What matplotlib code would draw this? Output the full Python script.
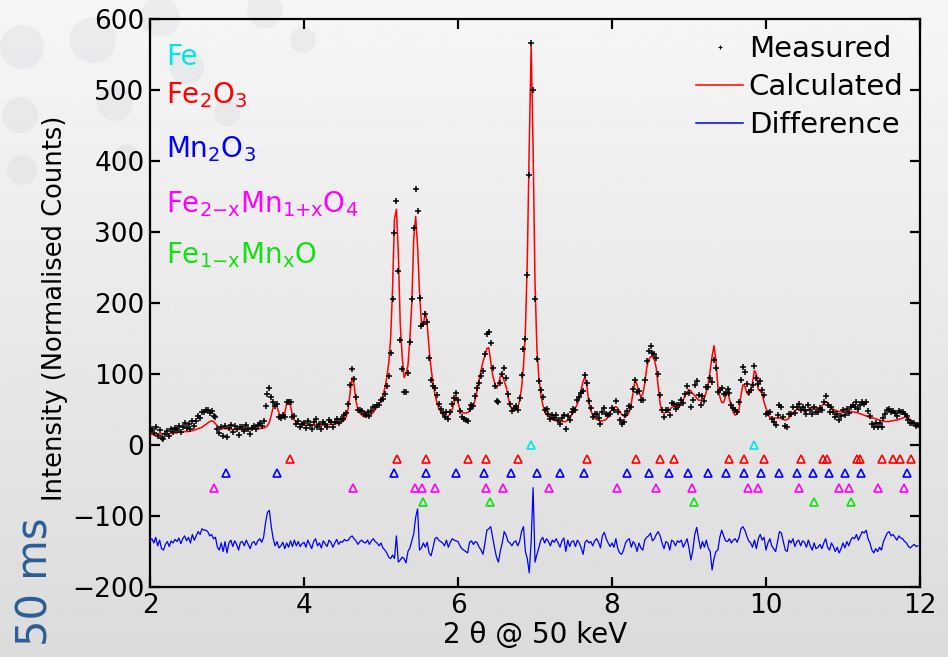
import numpy as np
import matplotlib.pyplot as plt
from matplotlib.patches import Circle
from matplotlib.lines import Line2D

plt.rcParams['font.family'] = ['DejaVu Sans']
plt.rcParams['mathtext.default'] = 'regular'

# 2theta grid (0.025 deg steps), 20 values per row of the tables below
two_theta = np.linspace(2.0, 11.975, 400)

measured = np.array([
    20, 23, 17, 25, 13, 21, 10, 8, 16, 20, 13, 22, 19, 24, 21, 27, 19, 26, 31, 24,
    29, 22, 34, 27, 34, 41, 38, 47, 47, 49, 49, 45, 48, 41, 40, 23, 17, 26, 13, 27,
    11, 24, 28, 19, 27, 22, 14, 25, 26, 20, 28, 22, 16, 24, 27, 22, 28, 31, 27, 34,
    55, 72, 80, 67, 61, 55, 58, 40, 38, 42, 39, 60, 60, 60, 39, 41, 30, 34, 26, 30,
    31, 24, 34, 28, 22, 32, 36, 26, 30, 23, 33, 29, 25, 35, 32, 25, 32, 37, 31, 36,
    36, 42, 45, 58, 85, 107, 93, 67, 50, 49, 48, 43, 42, 46, 41, 48, 54, 54, 56, 56,
    64, 65, 72, 83, 97, 130, 205, 298, 344, 245, 148, 107, 75, 74, 102, 145, 205, 305, 360, 330,
    207, 167, 170, 184, 173, 123, 92, 83, 80, 70, 58, 51, 45, 39, 46, 37, 47, 58, 66, 73,
    64, 48, 40, 37, 35, 34, 51, 56, 55, 69, 80, 88, 97, 104, 128, 156, 159, 143, 108, 83,
    62, 60, 88, 100, 108, 95, 72, 58, 48, 52, 55, 50, 66, 98, 135, 150, 240, 380, 566, 500,
    205, 121, 90, 78, 67, 50, 51, 44, 36, 42, 38, 42, 35, 29, 38, 42, 23, 41, 35, 46,
    51, 49, 64, 68, 73, 76, 99, 88, 62, 52, 40, 43, 44, 38, 29, 46, 52, 44, 42, 43,
    52, 49, 62, 46, 35, 29, 33, 42, 48, 55, 54, 79, 92, 75, 76, 63, 64, 92, 118, 132,
    140, 130, 128, 122, 100, 70, 49, 39, 50, 50, 42, 59, 58, 51, 57, 57, 64, 59, 72, 83,
    73, 54, 64, 84, 90, 71, 57, 69, 62, 81, 82, 95, 89, 120, 108, 74, 78, 80, 72, 73,
    79, 73, 56, 52, 50, 47, 60, 92, 110, 103, 86, 75, 78, 84, 111, 94, 86, 90, 78, 70,
    44, 45, 47, 36, 32, 28, 42, 56, 53, 40, 27, 26, 44, 44, 53, 45, 54, 58, 49, 54,
    50, 44, 56, 50, 44, 54, 46, 47, 52, 49, 60, 69, 56, 47, 54, 47, 39, 44, 35, 41,
    49, 42, 51, 45, 53, 57, 54, 60, 51, 56, 61, 58, 61, 48, 41, 30, 26, 31, 26, 31,
    26, 38, 43, 49, 51, 46, 48, 45, 41, 48, 46, 46, 43, 41, 35, 31, 31, 31, 27, 28,
])

calculated = np.array([
    15, 15, 15, 15, 15, 15, 16, 16, 16, 16, 16, 17, 17, 17, 17, 18, 18, 18, 19, 19,
    19, 20, 20, 21, 22, 23, 24, 25, 27, 29, 31, 33, 34, 33, 30, 27, 25, 24, 23, 23,
    23, 22, 22, 22, 22, 22, 22, 22, 22, 22, 22, 22, 22, 22, 23, 23, 23, 23, 24, 24,
    25, 27, 32, 42, 53, 57, 54, 45, 40, 39, 45, 58, 64, 55, 42, 35, 32, 30, 29, 29,
    28, 28, 28, 28, 28, 28, 28, 28, 28, 28, 28, 28, 28, 29, 29, 29, 30, 30, 31, 32,
    33, 35, 40, 52, 75, 95, 85, 62, 50, 45, 42, 40, 40, 40, 41, 43, 46, 50, 54, 58,
    62, 70, 80, 95, 115, 150, 220, 318, 332, 270, 170, 125, 95, 100, 112, 150, 200, 290, 322, 280,
    215, 172, 168, 188, 170, 135, 108, 88, 72, 60, 52, 47, 43, 41, 40, 41, 44, 50, 60, 68,
    60, 50, 46, 45, 45, 46, 48, 51, 55, 65, 78, 92, 105, 118, 126, 136, 137, 118, 98, 88,
    80, 85, 97, 98, 90, 82, 68, 56, 50, 49, 50, 52, 62, 80, 110, 160, 260, 420, 562, 420,
    230, 135, 95, 72, 57, 48, 43, 40, 38, 36, 35, 34, 33, 33, 33, 33, 33, 35, 38, 42,
    46, 52, 58, 66, 78, 90, 96, 82, 60, 48, 42, 38, 36, 35, 34, 34, 35, 36, 40, 46,
    50, 53, 54, 52, 47, 43, 41, 40, 42, 47, 58, 75, 92, 85, 74, 68, 72, 86, 108, 120,
    124, 125, 120, 108, 82, 58, 47, 45, 46, 48, 50, 53, 54, 53, 52, 54, 58, 63, 70, 75,
    78, 76, 72, 70, 66, 63, 63, 65, 66, 75, 87, 105, 125, 140, 118, 82, 68, 60, 60, 68,
    75, 65, 54, 46, 42, 44, 50, 70, 85, 83, 74, 70, 76, 88, 105, 100, 78, 76, 72, 60,
    52, 43, 39, 38, 38, 38, 38, 38, 37, 36, 35, 36, 38, 42, 45, 48, 50, 52, 51, 49,
    47, 48, 50, 52, 52, 52, 52, 51, 52, 55, 58, 61, 60, 55, 52, 50, 49, 48, 47, 47,
    47, 47, 47, 47, 47, 47, 46, 46, 45, 44, 43, 42, 41, 40, 39, 38, 38, 37, 36, 35,
    34, 34, 33, 33, 33, 34, 34, 35, 35, 36, 37, 38, 39, 39, 38, 36, 33, 31, 30, 30,
])

diff_offset = -140

# reflection positions for each phase
phase_labels = ['Fe', r'Fe$_2$O$_3$', r'Mn$_2$O$_3$',
                r'Fe$_{2{-}x}$Mn$_{1{+}x}$O$_4$', r'Fe$_{1{-}x}$Mn$_x$O']
phase_colors = ['#00e6e6', '#ff0000', '#0000ff', '#ff00ff', '#11e011']
phase_levels = [0, -20, -40, -60, -80]
fe_pos = [6.95, 9.84]
fe2o3_pos = [3.82, 5.21, 5.59, 6.13, 6.37, 6.78, 7.67, 8.31, 8.62, 8.81, 9.52, 9.72,
             9.98, 10.45, 10.74, 10.79, 11.18, 11.22, 11.51, 11.65, 11.74, 11.88]
mn2o3_pos = [2.99, 3.65, 5.17, 5.59, 5.97, 6.34, 6.69, 7.02, 7.33, 7.63, 8.20, 8.48,
             8.74, 8.99, 9.25, 9.48, 9.72, 9.94, 10.17, 10.40, 10.61, 10.82, 11.03,
             11.23, 11.83]
spinel_pos = [2.83, 4.63, 5.44, 5.53, 5.70, 6.37, 6.59, 7.18, 8.06, 8.57, 9.04, 9.76,
              9.89, 10.43, 10.95, 11.08, 11.45, 11.79]
wustite_pos = [5.54, 6.42, 9.06, 10.62, 11.11]
phase_positions = [fe_pos, fe2o3_pos, mn2o3_pos, spinel_pos, wustite_pos]

fig = plt.figure(figsize=(9.48, 6.57), dpi=100)

# slide background: grey gradient with faint bubbles
bg = fig.add_axes([0, 0, 1, 1], zorder=-1)
grad = np.linspace(0.965, 0.86, 256)[:, None]
bg.imshow(grad, cmap='gray', vmin=0, vmax=1, aspect='auto', extent=[0, 948, 657, 0])
bubbles = [(22, 47, 22), (93, 40, 23), (20, 115, 18), (115, 103, 18), (22, 170, 15),
           (127, 157, 13), (160, 17, 20), (187, 67, 17), (227, 113, 13), (303, 40, 13),
           (265, 10, 18)]
for bx, by, br in bubbles:
    bg.add_patch(Circle((bx, by), br, facecolor='#cfd5dc', edgecolor='none', alpha=0.3))
bg.set_xlim(0, 948)
bg.set_ylim(657, 0)
bg.axis('off')

fig.text(36 / 948, 1 - 518 / 657, '50 ms', rotation=90, ha='center', va='top',
         fontsize=30, color='#2b5e95')

ax = fig.add_axes([150 / 948, 1 - 587 / 657, 770 / 948, 568 / 657])
ax.set_facecolor('none')

ax.plot(two_theta, calculated, color='#ff0000', lw=1.1, zorder=3)
ax.plot(two_theta, measured, ls='none', marker='+', ms=4, mew=1.1, color='black', zorder=4)
ax.plot(two_theta, measured - calculated + diff_offset, color='#0000ff', lw=0.9, zorder=3)

for pos, lvl, col in zip(phase_positions, phase_levels, phase_colors):
    ax.plot(pos, [lvl] * len(pos), ls='none', marker='^', ms=6, mfc='none',
            mec=col, mew=1.2, zorder=3)

label_y = [0.919, 0.852, 0.757, 0.660, 0.570]
for lab, col, yy in zip(phase_labels, phase_colors, label_y):
    ax.text(0.021, yy, lab, transform=ax.transAxes, color=col, fontsize=20,
            ha='left', va='baseline')

handles = [Line2D([], [], ls='none', marker='+', ms=3, mew=0.8, color='black'),
           Line2D([], [], color='#ff0000', lw=1.1),
           Line2D([], [], color='#0000ff', lw=1.1)]
ax.legend(handles, ['Measured', 'Calculated', 'Difference'], loc='upper right',
          bbox_to_anchor=(0.999, 1.0), frameon=False, fontsize=21, handlelength=1.6,
          handletextpad=0.2, labelspacing=0.35, borderaxespad=0.1, borderpad=0.44)

ax.set_xlim(2, 12)
ax.set_ylim(-200, 600)
ax.set_xticks([2, 4, 6, 8, 10, 12])
ax.set_yticks([-200, -100, 0, 100, 200, 300, 400, 500, 600])
ax.tick_params(direction='in', length=7, width=1.6, top=True, right=True,
               labelsize=19, pad=4)
for sp in ax.spines.values():
    sp.set_linewidth(1.6)

ax.set_xlabel('2 θ @ 50 keV', fontsize=20, labelpad=2)
ax.set_ylabel('Intensity (Normalised Counts)', fontsize=18.5)
ax.yaxis.set_label_coords(-0.1065, 0.49)

fig.savefig('out.png', dpi=100)
